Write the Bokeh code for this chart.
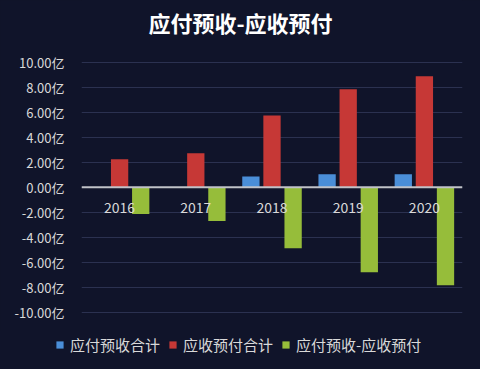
from bokeh.plotting import figure
from bokeh.layouts import column
from bokeh.models import FactorRange, Span, Legend, LegendItem, PrintfTickFormatter, FixedTicker, Range1d, Label
from bokeh.transform import dodge
from bokeh.core.properties import value
from bokeh.embed import file_html
from bokeh.resources import INLINE

years = ["2016", "2017", "2018", "2019", "2020"]
yingfu_yushou = [0.02, 0.02, 0.86, 1.04, 1.04]          # 应付预收合计
yingshou_yufu = [2.24, 2.72, 5.74, 7.84, 8.88]          # 应收预付合计
diff = [-2.14, -2.70, -4.88, -6.80, -7.84]              # 应付预收-应收预付
y_ticks = [-10, -8, -6, -4, -2, 0, 2, 4, 6, 8, 10]
series_names = ["应付预收合计", "应收预付合计", "应付预收-应收预付"]
series_colors = ["#4a8ed8", "#c63836", "#96bd3a"]
title_text = "应付预收-应收预付"

BG = "#10142a"
FONT = "Noto Sans CJK SC"
TXT = "#d9d9d9"
NAN = float("nan")

# main chart: frame spans full height (uniform background) so the title can sit inside it
p = figure(width=480, height=330, x_range=FactorRange(*years, range_padding=0),
           y_range=Range1d(-11.46, 14.94), output_backend="svg", toolbar_location=None,
           min_border_left=81, min_border_right=18, min_border_top=0, min_border_bottom=0,
           styles={"background-color": BG})
p.frame_align = False
p.background_fill_color = BG
p.border_fill_color = BG
p.outline_line_color = None

src = dict(x=years, a=yingfu_yushou, b=yingshou_yufu, c=diff)
w = 0.227
p.vbar(x=dodge("x", -0.277, range=p.x_range), top="a", bottom=0, width=w, source=src,
       fill_color=series_colors[0], line_color=None)
p.vbar(x=dodge("x", 0.0, range=p.x_range), top="b", bottom=0, width=w, source=src,
       fill_color=series_colors[1], line_color=None)
p.vbar(x=dodge("x", 0.277, range=p.x_range), top="c", bottom=0, width=w, source=src,
       fill_color=series_colors[2], line_color=None)

p.add_layout(Span(location=0, dimension="width", line_color="#c0c2c8", line_width=2))

p.text(x=years, y=[0] * len(years), text=years, y_offset=20, text_align="center",
       text_baseline="middle", text_color=TXT, text_font=value(FONT), text_font_size="14px")

p.xaxis.visible = False
p.xgrid.grid_line_color = None
p.ygrid.grid_line_color = "#2b3150"
p.ygrid.grid_line_width = 1
p.yaxis.ticker = FixedTicker(ticks=y_ticks)
p.yaxis.formatter = PrintfTickFormatter(format="%.2f亿")
p.yaxis.axis_line_color = None
p.yaxis.major_tick_line_color = None
p.yaxis.minor_tick_line_color = None
p.yaxis.major_label_text_color = TXT
p.yaxis.major_label_text_font = FONT
p.yaxis.major_label_text_font_size = "13px"
p.yaxis.major_label_standoff = 11

p.add_layout(Label(x=2.087, y=13.25, text=title_text, text_align="center", text_baseline="middle",
                   text_color="#ffffff", text_font=FONT, text_font_size="22px",
                   text_font_style="bold"))

# legend strip below the chart
lf = figure(width=480, height=39, x_range=Range1d(0, 480), y_range=Range1d(0, 39),
            output_backend="svg", toolbar_location=None,
            min_border_left=0, min_border_right=0, min_border_top=0, min_border_bottom=0,
            styles={"background-color": BG})
lf.frame_align = False
lf.background_fill_color = BG
lf.border_fill_color = BG
lf.outline_line_color = None
lf.axis.visible = False
lf.grid.visible = False
items = []
for name, col in zip(series_names, series_colors):
    # legend-only renderer (NaN data draws nothing, but gives the legend a swatch)
    r = lf.vbar(x=[NAN], top=[NAN], width=1, fill_color=col, line_color=None)
    items.append(LegendItem(label=name, renderers=[r]))
legend = Legend(items=items, orientation="horizontal", location=(55, 14),
                background_fill_alpha=0, border_line_color=None,
                label_text_color=TXT, label_text_font=FONT, label_text_font_size="15px",
                glyph_width=9, glyph_height=9, label_standoff=6, spacing=8,
                padding=0, margin=0, label_height=16)
lf.add_layout(legend, "center")

layout = column(p, lf, spacing=0, styles={"background-color": BG})
open("out.html", "w").write(file_html(layout, INLINE))
